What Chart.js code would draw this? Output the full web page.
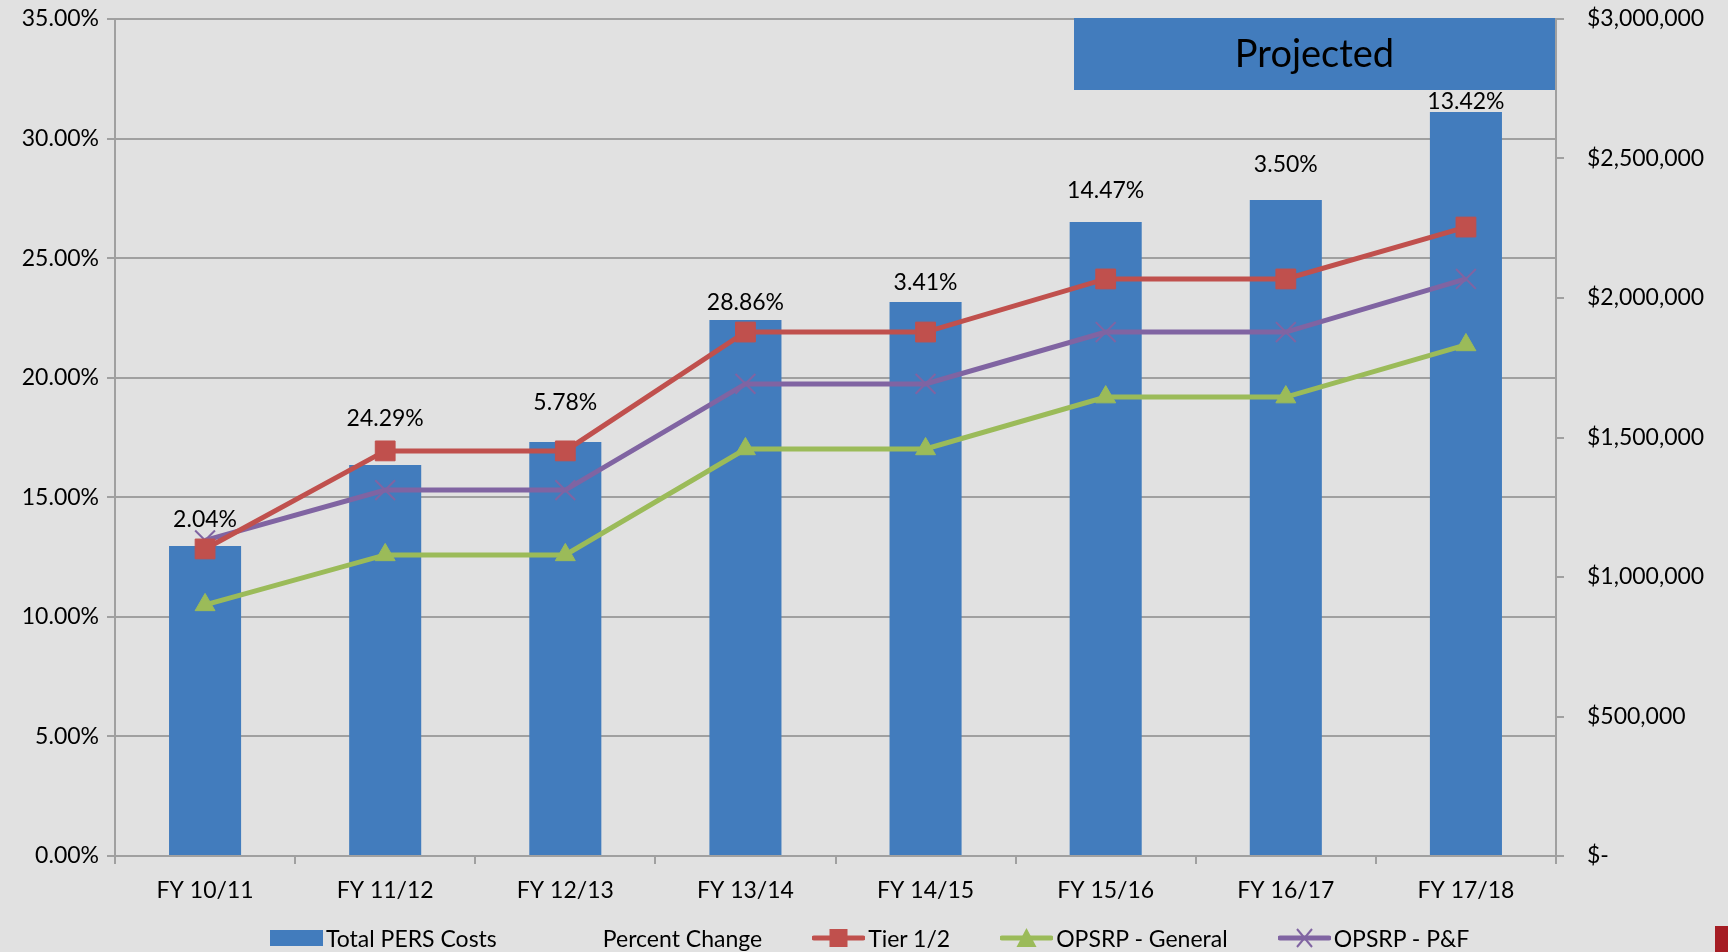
<!DOCTYPE html>
<html>
<head>
<meta charset="utf-8">
<script src="https://cdn.jsdelivr.net/npm/chart.js@4.4.1/dist/chart.umd.min.js"></script>
<style>
  html, body { margin: 0; padding: 0; background: #e1e1e1; }
  #wrap { position: relative; width: 1728px; height: 952px; font-family: Lato, sans-serif; }
  #legend { position: absolute; left: 270px; top: 924px; display: flex; align-items: center; gap: 50px; font-size: 23px; color: #000; }
  .item { display: flex; align-items: center; }
  .item svg { width: 53px; height: 28px; margin-right: 3px; }
  #corner { position: absolute; left: 1715px; top: 926px; width: 13px; height: 26px; background: #a51d24; }
</style>
</head>
<body>
<div id="wrap">
  <canvas id="persChart"></canvas>
  <div id="legend">
    <div class="item"><svg viewBox="0 0 53 28"><rect x="0" y="6" width="53" height="16" fill="#427cbd"/></svg>Total PERS Costs</div>
    <div class="item"><svg viewBox="0 0 53 28"></svg>Percent Change</div>
    <div class="item"><svg viewBox="0 0 53 28"><line x1="2" y1="14" x2="51" y2="14" stroke="#c0504d" stroke-width="5" stroke-linecap="round"/><rect x="17.5" y="5" width="18" height="18" fill="#c0504d"/></svg>Tier 1/2</div>
    <div class="item"><svg viewBox="0 0 53 28"><line x1="2" y1="14" x2="51" y2="14" stroke="#9bbb59" stroke-width="5" stroke-linecap="round"/><polygon points="26.5,4 36.5,23 16.5,23" fill="#9bbb59"/></svg>OPSRP - General</div>
    <div class="item"><svg viewBox="0 0 53 28"><line x1="2" y1="14" x2="51" y2="14" stroke="#8064a2" stroke-width="5" stroke-linecap="round"/><line x1="19" y1="5" x2="34" y2="23" stroke="#8064a2" stroke-width="2"/><line x1="34" y1="5" x2="19" y2="23" stroke="#8064a2" stroke-width="2"/></svg>OPSRP - P&amp;F</div>
  </div>
  <div id="corner"></div>
</div>
<script>
const categories = ["FY 10/11", "FY 11/12", "FY 12/13", "FY 13/14", "FY 14/15", "FY 15/16", "FY 16/17", "FY 17/18"];
const totalCosts = [1111000, 1401000, 1484000, 1921000, 1986000, 2272000, 2351000, 2667000];
const pctChange = [2.04, 24.29, 5.78, 28.86, 3.41, 14.47, 3.50, 13.42];
const tier12 = [12.84, 16.94, 16.94, 21.91, 21.91, 24.13, 24.13, 26.30];
const opsrpGeneral = [10.50, 12.59, 12.59, 17.02, 17.02, 19.19, 19.19, 21.37];
const opsrpPF = [13.20, 15.30, 15.30, 19.74, 19.74, 21.91, 21.91, 24.13];
const pctTicks = [0, 5, 10, 15, 20, 25, 30, 35];
const costTicks = [0, 500000, 1000000, 1500000, 2000000, 2500000, 3000000];

// how far each percent label sits above its bar (px), as placed in the original
const labelLift = [26, 47, 39, 17, 19, 32, 35, 10];

const GRID = "#a0a0a0";
const FONT = { family: "Lato", size: 23 };

const pctLabels = {
  id: "pctLabels",
  afterDatasetsDraw(chart) {
    const bars = chart.getDatasetMeta(0).data;
    const ctx = chart.ctx;
    ctx.save();
    ctx.font = "23px Lato";
    ctx.fillStyle = "#000";
    ctx.textAlign = "center";
    ctx.textBaseline = "middle";
    pctChange.forEach((v, i) => {
      ctx.fillText(v.toFixed(2) + "%", bars[i].x, bars[i].y - labelLift[i]);
    });
    ctx.restore();
  },
};

const projectedBox = {
  id: "projectedBox",
  afterDraw(chart) {
    const a = chart.chartArea;
    const ctx = chart.ctx;
    const left = 1074, top = a.top - 1, right = a.right - 1, bottom = 90;
    ctx.save();
    ctx.fillStyle = "#427cbd";
    ctx.fillRect(left, top, right - left, bottom - top);
    ctx.font = "38px Lato";
    ctx.fillStyle = "#000";
    ctx.textAlign = "center";
    ctx.textBaseline = "middle";
    ctx.fillText("Projected", (left + right) / 2, (top + bottom) / 2 + 1);
    ctx.restore();
  },
};

const ctx = document.getElementById("persChart").getContext("2d");
const persChart = new Chart(ctx, {
  data: {
    labels: categories,
    datasets: [
      {
        type: "bar",
        label: "Total PERS Costs",
        data: totalCosts,
        yAxisID: "y1",
        backgroundColor: "#427cbd",
        categoryPercentage: 0.4,
        barPercentage: 1,
        order: 10,
      },
      {
        type: "line",
        label: "Percent Change",
        data: pctChange,
        yAxisID: "y",
        showLine: false,
        pointRadius: 0,
        order: 5,
      },
      {
        type: "line",
        label: "Tier 1/2",
        data: tier12,
        yAxisID: "y",
        borderColor: "#c0504d",
        backgroundColor: "#c0504d",
        borderWidth: 5,
        pointStyle: "rect",
        pointRadius: 14,
        pointBorderWidth: 1,
        tension: 0,
        order: 1,
      },
      {
        type: "line",
        label: "OPSRP - General",
        data: opsrpGeneral,
        yAxisID: "y",
        borderColor: "#9bbb59",
        backgroundColor: "#9bbb59",
        borderWidth: 5,
        pointStyle: "triangle",
        pointRadius: 11.5,
        pointBorderWidth: 1,
        tension: 0,
        order: 3,
      },
      {
        type: "line",
        label: "OPSRP - P&F",
        data: opsrpPF,
        yAxisID: "y",
        borderColor: "#8064a2",
        backgroundColor: "#8064a2",
        borderWidth: 5,
        pointStyle: "crossRot",
        pointRadius: 14,
        pointBorderWidth: 2,
        tension: 0,
        order: 2,
      },
    ],
  },
  options: {
    responsive: true,
    maintainAspectRatio: false,
    animation: false,
    layout: { autoPadding: false, padding: { top: 19, left: 0, right: 0, bottom: 0 } },
    plugins: {
      legend: { display: false },
      tooltip: { enabled: false },
    },
    scales: {
      x: {
        offset: true,
        grid: { offset: true, drawOnChartArea: false, drawTicks: true, tickLength: 8, color: GRID, lineWidth: 2 },
        border: { display: true, color: GRID, width: 2 },
        ticks: { color: "#000", font: FONT, padding: 13, maxRotation: 0 },
        afterFit(scale) { scale.height = 96; },
      },
      y: {
        position: "left",
        min: 0,
        max: 35,
        afterBuildTicks(scale) { scale.ticks = pctTicks.map((v) => ({ value: v })); },
        grid: { color: GRID, lineWidth: 2, tickLength: 8 },
        border: { display: true, color: GRID, width: 2 },
        ticks: { color: "#000", font: FONT, padding: 8, callback: (v) => v.toFixed(2) + "%" },
        afterFit(scale) { scale.width = 115; scale.paddingTop = 0; scale.paddingBottom = 0; },
      },
      y1: {
        position: "right",
        min: 0,
        max: 3000000,
        afterBuildTicks(scale) { scale.ticks = costTicks.map((v) => ({ value: v })); },
        grid: { drawOnChartArea: false, color: GRID, lineWidth: 2, tickLength: 8 },
        border: { display: true, color: GRID, width: 2 },
        ticks: {
          color: "#000",
          font: FONT,
          padding: 23,
          callback: (v) => (v === 0 ? "$-" : "$" + v.toLocaleString("en-US")),
        },
        afterFit(scale) { scale.width = 172; scale.paddingTop = 0; scale.paddingBottom = 0; },
      },
    },
  },
  plugins: [pctLabels, projectedBox],
});
</script>
</body>
</html>
